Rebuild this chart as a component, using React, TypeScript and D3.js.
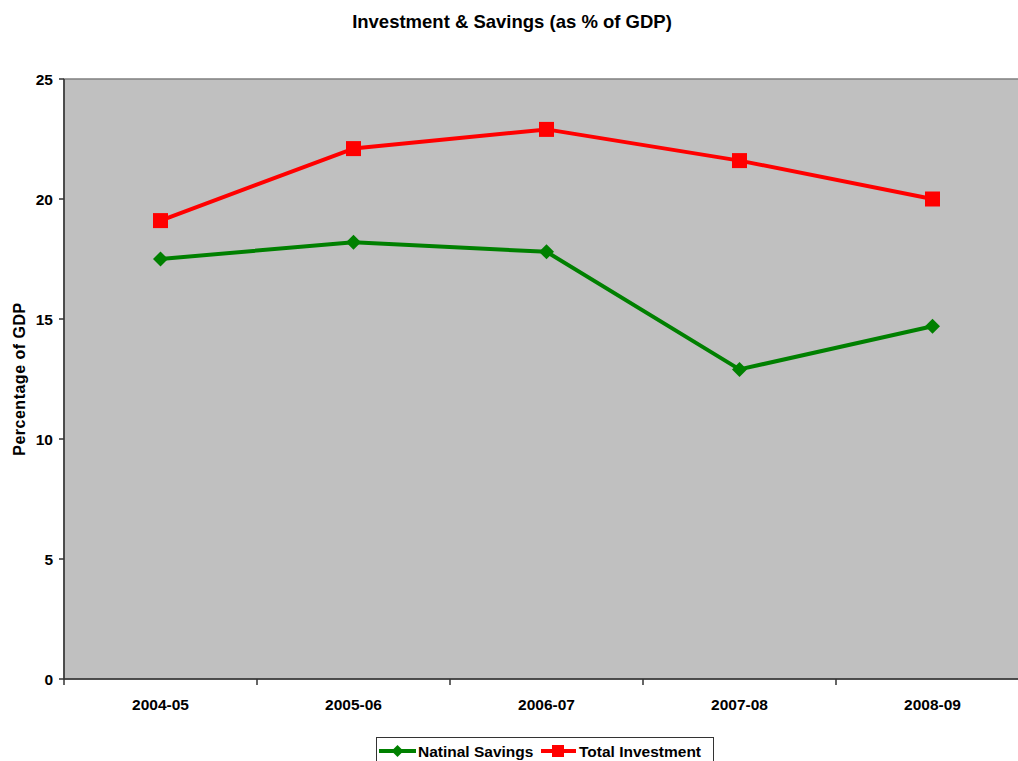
import React from "react";
import * as d3 from "d3";

const categories = ["2004-05", "2005-06", "2006-07", "2007-08", "2008-09"];
const savings = [17.5, 18.2, 17.8, 12.9, 14.7];
const investment = [19.1, 22.1, 22.9, 21.6, 20.0];
const yTicks = [0, 5, 10, 15, 20, 25];

const W = 1018;
const H = 761;
const left = 64;
const right = 1029;
const top = 79;
const bottom = 679;
const FONT = "'Liberation Sans', Arial, sans-serif";

export default function App() {
  const x = d3.scaleBand<string>().domain(categories).range([left, right]).padding(0);
  const y = d3.scaleLinear().domain([0, 25]).range([bottom, top]);
  const cx = (c: string) => (x(c) as number) + x.bandwidth() / 2;
  const line = d3
    .line<number>()
    .x((_, i) => cx(categories[i]))
    .y((d) => y(d));
  const diamond = (px: number, py: number, r: number) =>
    `M${px},${py - r}L${px + r},${py}L${px},${py + r}L${px - r},${py}Z`;

  return (
    <div style={{ position: "fixed", left: 0, top: 0, width: W, height: H, overflow: "hidden", background: "#fff" }}>
      <svg width={W} height={H} style={{ display: "block" }} fontFamily={FONT}>
        <text x={512} y={28} textAnchor="middle" fontSize={18.5} fontWeight="bold">
          Investment &amp; Savings (as % of GDP)
        </text>
        <rect x={left} y={top} width={right - left} height={bottom - top} fill="#C0C0C0" stroke="#808080" strokeWidth={1.5} />
        {/* y axis */}
        <line x1={left} x2={left} y1={top} y2={bottom} stroke="#333" strokeWidth={1.5} />
        {yTicks.map((t) => (
          <g key={t}>
            <line x1={left - 5} x2={left} y1={y(t)} y2={y(t)} stroke="#333" strokeWidth={1.5} />
            <text x={53} y={y(t) + 5.5} textAnchor="end" fontSize={15.5} fontWeight="bold">
              {t}
            </text>
          </g>
        ))}
        {/* x axis */}
        <line x1={left} x2={right} y1={bottom} y2={bottom} stroke="#333" strokeWidth={1.5} />
        {categories.map((c) => (
          <g key={c}>
            <line x1={x(c) as number} x2={x(c) as number} y1={bottom} y2={bottom + 6} stroke="#333" strokeWidth={1.5} />
            <text x={cx(c)} y={710} textAnchor="middle" fontSize={15.5} fontWeight="bold">
              {c}
            </text>
          </g>
        ))}
        <text
          transform={`translate(25,${(top + bottom) / 2}) rotate(-90)`}
          textAnchor="middle"
          fontSize={16}
          fontWeight="bold"
          letterSpacing={0.5}
        >
          Percentage of GDP
        </text>
        {/* series */}
        <path d={line(savings) as string} fill="none" stroke="#008000" strokeWidth={4} strokeLinejoin="round" />
        {savings.map((v, i) => (
          <path key={"s" + i} d={diamond(cx(categories[i]), y(v), 7.5)} fill="#008000" />
        ))}
        <path d={line(investment) as string} fill="none" stroke="#FF0000" strokeWidth={4} strokeLinejoin="round" />
        {investment.map((v, i) => (
          <rect key={"r" + i} x={cx(categories[i]) - 7.5} y={y(v) - 7.5} width={15} height={15} fill="#FF0000" />
        ))}
        {/* legend */}
        <rect x={376.5} y={737.5} width={337} height={40} fill="#fff" stroke="#333" strokeWidth={1} />
        <line x1={379} x2={416} y1={751} y2={751} stroke="#008000" strokeWidth={4} />
        <path d={diamond(397.5, 751, 6)} fill="#008000" />
        <text x={418} y={757} fontSize={15.5} fontWeight="bold">
          Natinal Savings
        </text>
        <line x1={541} x2={576} y1={751} y2={751} stroke="#FF0000" strokeWidth={4} />
        <rect x={552} y={745} width={12} height={12} fill="#FF0000" />
        <text x={579} y={757} fontSize={15.5} fontWeight="bold">
          Total Investment
        </text>
      </svg>
    </div>
  );
}
